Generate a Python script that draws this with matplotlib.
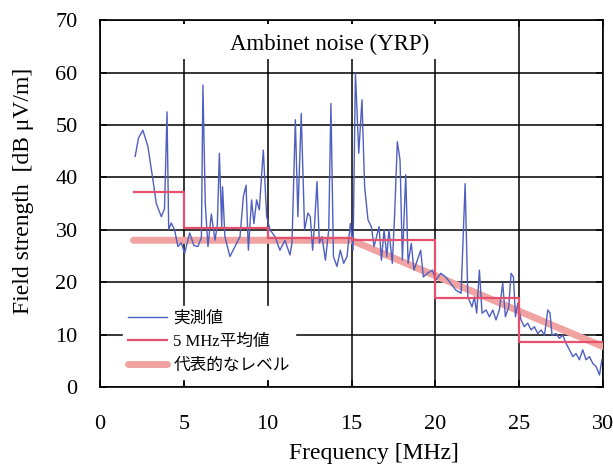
import numpy as np
import matplotlib.pyplot as plt
from matplotlib.patches import Rectangle

freq = [2.1, 2.3, 2.56, 2.86, 3.16, 3.36, 3.66, 3.85, 4.0, 4.1, 4.25, 4.45, 4.65, 4.85,
        5.05, 5.35, 5.6, 5.84, 6.05, 6.14, 6.28, 6.44, 6.64, 6.86, 7.0, 7.12, 7.26, 7.31,
        7.45, 7.75, 8.05, 8.35, 8.55, 8.71, 8.85, 9.04, 9.18, 9.34, 9.5, 9.74, 9.94,
        10.14, 10.44, 10.73, 11.03, 11.33, 11.45, 11.65, 11.8, 12.0, 12.2, 12.4, 12.54,
        12.68, 12.8, 12.94, 13.08, 13.24, 13.44, 13.64, 13.77, 13.92, 14.13, 14.33, 14.53,
        14.73, 14.93, 15.09, 15.23, 15.43, 15.62, 15.78, 15.98, 16.18, 16.34, 16.64, 16.78,
        16.94, 17.1, 17.23, 17.43, 17.57, 17.73, 17.89, 18.03, 18.23, 18.37, 18.56, 18.72,
        18.92, 19.12, 19.28, 19.52, 19.82, 20.02, 20.32, 20.61, 20.91, 21.21, 21.53, 21.77,
        21.93, 22.18, 22.32, 22.46, 22.62, 22.78, 23.02, 23.22, 23.42, 23.61, 23.81, 24.01,
        24.17, 24.37, 24.51, 24.65, 24.77, 24.91, 25.1, 25.3, 25.5, 25.7, 25.9, 26.1, 26.3,
        26.5, 26.7, 26.83, 26.95, 27.19, 27.39, 27.59, 27.79, 27.99, 28.19, 28.38, 28.58,
        28.78, 28.98, 29.18, 29.38, 29.58, 29.78, 29.92]
level = [44.0, 47.5, 49.0, 45.9, 39.5, 35.0, 32.5, 34.0, 52.5, 30.0, 31.3, 30.0, 26.8, 27.5,
         25.5, 29.4, 27.0, 26.8, 28.5, 57.6, 35.0, 26.8, 33.0, 28.0, 31.0, 44.6, 30.6, 38.2,
         28.7, 24.9, 26.8, 28.7, 36.3, 38.5, 26.1, 35.7, 31.2, 35.7, 33.8, 45.2, 32.5,
         30.0, 28.7, 26.1, 28.0, 25.2, 27.5, 51.0, 32.5, 52.2, 30.0, 33.2, 32.5,
         26.1, 31.3, 39.2, 27.5, 28.7, 24.2, 30.0, 54.1, 24.9, 23.0, 26.1, 23.6,
         24.9, 31.2, 26.1, 59.9, 44.6, 54.8, 38.2, 31.9, 30.6, 26.8, 30.6, 24.2,
         30.0, 24.9, 30.0, 23.6, 33.1, 46.8, 43.3, 24.2, 40.5, 23.6, 27.4, 22.3,
         24.2, 26.1, 21.0, 21.7, 22.3, 20.4, 21.7, 21.0, 19.8, 18.5, 17.9, 38.8,
         17.2, 15.3, 17.2, 14.1, 22.3, 14.1, 14.7, 13.4, 14.7, 12.8, 14.7, 19.8,
         13.4, 15.3, 21.7, 21.0, 13.4, 16.0, 12.8, 11.5, 12.2, 10.9, 11.5, 10.2, 10.9,
         9.9, 14.7, 14.1, 9.9, 10.2, 9.3, 9.9, 8.3, 7.1, 5.8, 6.4, 5.2,
         7.1, 5.2, 5.8, 4.5, 3.9, 2.3, 5.2]

# 5 MHz averages
avg_x = [2.05, 5, 5, 10, 10, 15, 15, 20, 20, 25, 25, 30]
avg_y = [37.3, 37.3, 30.3, 30.3, 28.5, 28.5, 28.0, 28.0, 16.9, 16.9, 8.5, 8.5]

# representative level
rep_x = [2.0, 15.0, 30.0]
rep_y = [28.0, 28.0, 7.7]

serif = 'Liberation Serif'
plt.rcParams['font.family'] = [serif, 'Noto Sans CJK JP']

fig = plt.figure(figsize=(6.13, 4.68), dpi=100)
ax = fig.add_axes([0.163, 0.173, 0.821, 0.784])

ax.plot(rep_x, rep_y, color='#f0a3a0', lw=5, solid_capstyle='round', zorder=3, label='代表的なレベル')
ax.plot(avg_x, avg_y, color='#e5506c', lw=1.6, zorder=4, label='5 MHz平均値')
ax.plot(freq, level, color='#4f5fbf', lw=1.0, zorder=3.5, label='実測値')

ax.set_xlim(0, 30)
ax.set_ylim(0, 70)
ax.set_xticks(range(0, 31, 5))
ax.set_yticks(range(0, 71, 10))
ax.set_axisbelow(True)
ax.grid(True, color='black', lw=1.1)
ax.tick_params(direction='in', length=5, width=1.1, top=True, right=True, labelsize=16)
ax.tick_params(axis='y', pad=16)
ax.tick_params(axis='x', pad=20)
for s in ax.spines.values():
    s.set_linewidth(1.2)

ax.add_patch(Rectangle((4.6, 62.6), 16.0, 6.6, facecolor='white', edgecolor='none', zorder=1))
ax.text(13.7, 65.4, 'Ambinet noise (YRP)', ha='center', va='center', fontsize=16.5, zorder=5)

ax.set_xlabel('Frequency [MHz]', fontsize=17)
ax.set_ylabel('Field strength  [dB μV/m]', fontsize=17)
ax.xaxis.set_label_coords(0.545, -0.152)
ax.yaxis.set_label_coords(-0.13, 0.534)

h, l = ax.get_legend_handles_labels()
leg = ax.legend(h[::-1], l[::-1], loc='lower left', bbox_to_anchor=(0.03, 0.0),
                fontsize=12, frameon=True, fancybox=False, framealpha=1,
                edgecolor='white', handlelength=2.3, handletextpad=0.4,
                labelspacing=0.45, borderpad=0.3)
leg.set_zorder(6)

fig.savefig('out.png', dpi=100)
